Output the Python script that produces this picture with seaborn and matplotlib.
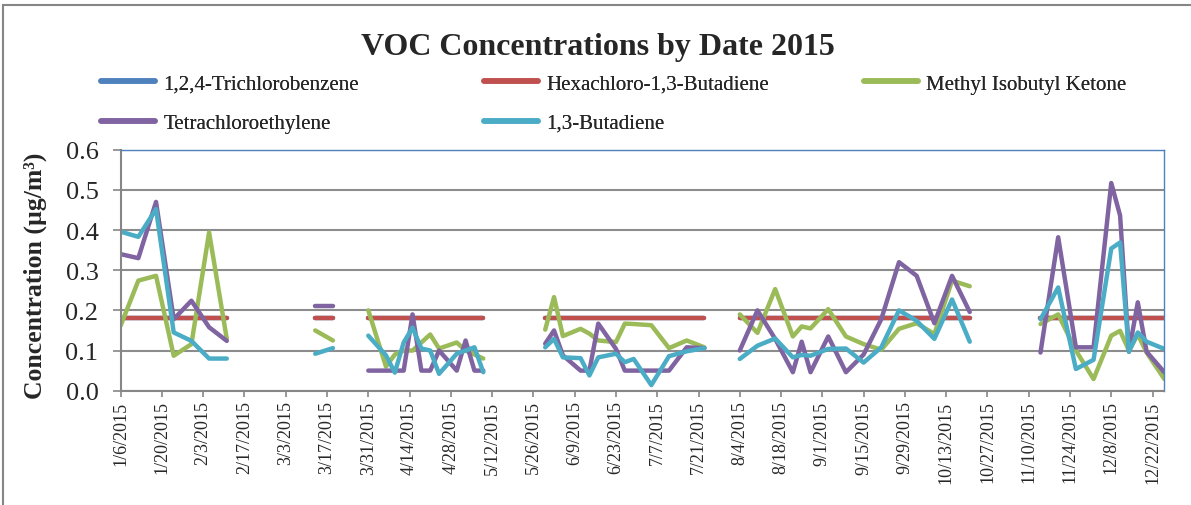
# VOC concentrations by sample date, 2015 (line chart)

import pandas as pd
import matplotlib.pyplot as plt
from matplotlib.patches import Rectangle
import seaborn as sns

# Sample dates; 'segment' splits the record where the monitor had no data
dates = ['1/6/2015', '1/12/2015', '1/18/2015', '1/24/2015', '1/30/2015', '2/5/2015', '2/11/2015',
         '3/13/2015', '3/19/2015',
         '3/31/2015', '4/6/2015', '4/9/2015', '4/12/2015', '4/15/2015', '4/18/2015',
         '4/21/2015', '4/24/2015', '4/30/2015', '5/3/2015', '5/6/2015', '5/9/2015',
         '5/30/2015', '6/2/2015', '6/5/2015', '6/11/2015', '6/14/2015', '6/17/2015', '6/23/2015',
         '6/26/2015', '6/29/2015', '7/5/2015', '7/11/2015', '7/17/2015', '7/23/2015',
         '8/4/2015', '8/10/2015', '8/16/2015', '8/22/2015', '8/25/2015', '8/28/2015', '9/3/2015',
         '9/9/2015', '9/15/2015', '9/21/2015', '9/27/2015', '10/3/2015', '10/9/2015',
         '10/15/2015', '10/21/2015',
         '11/14/2015', '11/20/2015', '11/26/2015', '12/2/2015', '12/8/2015', '12/11/2015',
         '12/14/2015', '12/17/2015', '12/20/2015', '12/26/2015']
segment = [1] * 7 + [2] * 2 + [3] * 12 + [4] * 13 + [5] * 15 + [6] * 10

trichlorobenzene = [0.182] * 59
hexachlorobutadiene = [0.18] * 59
mibk = [0.162, 0.274, 0.286, 0.087, 0.116, 0.394, 0.129,
        0.15, 0.125,
        0.20, 0.06, 0.09, 0.10, 0.10, 0.12, 0.14, 0.105, 0.12, 0.10, 0.09, 0.08,
        0.152, 0.233, 0.136, 0.154, 0.142, 0.125, 0.121, 0.167, 0.166, 0.163, 0.106, 0.125, 0.108,
        0.19, 0.144, 0.253, 0.135, 0.16, 0.155, 0.203, 0.135, 0.116, 0.102, 0.154, 0.168, 0.141,
        0.274, 0.26,
        0.166, 0.19, 0.10, 0.029, 0.137, 0.149, 0.10, 0.14, 0.095, 0.029]
tetrachloroethylene = [0.34, 0.33, 0.47, 0.178, 0.224, 0.158, 0.124,
                       0.21, 0.21,
                       0.05, 0.05, 0.05, 0.05, 0.19, 0.05, 0.05, 0.10, 0.05, 0.125, 0.05, 0.05,
                       0.117, 0.15, 0.088, 0.05, 0.05, 0.167, 0.104, 0.05, 0.05, 0.05, 0.05, 0.108, 0.106,
                       0.10, 0.20, 0.129, 0.046, 0.122, 0.046, 0.135, 0.046, 0.09, 0.178, 0.32, 0.286,
                       0.168, 0.286, 0.196,
                       0.095, 0.382, 0.108, 0.108, 0.517, 0.436, 0.097, 0.22, 0.097, 0.046]
butadiene = [0.396, 0.383, 0.452, 0.145, 0.124, 0.08, 0.08,
             0.092, 0.106,
             0.137, 0.088, 0.045, 0.12, 0.157, 0.105, 0.10, 0.042, 0.092, 0.10, 0.108, 0.046,
             0.108, 0.129, 0.083, 0.081, 0.038, 0.083, 0.092, 0.071, 0.079, 0.014, 0.086, 0.098, 0.106,
             0.079, 0.112, 0.13, 0.083, 0.089, 0.087, 0.104, 0.105, 0.07, 0.108, 0.2, 0.174,
             0.129, 0.227, 0.122,
             0.178, 0.257, 0.054, 0.077, 0.354, 0.369, 0.097, 0.145, 0.122, 0.104]

compounds = ['1,2,4-Trichlorobenzene', 'Hexachloro-1,3-Butadiene', 'Methyl Isobutyl Ketone',
             'Tetrachloroethylene', '1,3-Butadiene']
colors = ['#4F81BD', '#C0504D', '#9BBB59', '#8064A2', '#4BACC6']

df = pd.DataFrame({
    'Date': pd.to_datetime(dates, format='%m/%d/%Y'),
    'Segment': segment,
    compounds[0]: trichlorobenzene,
    compounds[1]: hexachlorobutadiene,
    compounds[2]: mibk,
    compounds[3]: tetrachloroethylene,
    compounds[4]: butadiene,
})
long_df = df.melt(id_vars=['Date', 'Segment'], var_name='Compound', value_name='Concentration')

sns.set_style('white')
plt.rcParams['font.family'] = ['Liberation Serif', 'DejaVu Serif']

fig = plt.figure(figsize=(11.91, 5.06), dpi=100)
ax = fig.add_axes([0.1013, 0.2259, 0.8763, 0.4763])

sns.lineplot(data=long_df, x='Date', y='Concentration', hue='Compound', hue_order=compounds,
             palette=colors, units='Segment', estimator=None, sort=False,
             linewidth=3.2, solid_capstyle='round', solid_joinstyle='round', ax=ax)

# Legend laid out like the original: 3 columns, filled row by row
leg = ax.get_legend()
handles = leg.legend_handles
labels = [t.get_text() for t in leg.get_texts()]
leg.remove()
for h in handles:
    h.set_linewidth(4)
    h.set_solid_capstyle('round')
legend_columns = [[0, 3], [1, 4], [2]]
column_x = [101, 484, 864]
for idx, x in zip(legend_columns, column_x):
    lg = fig.legend([handles[i] for i in idx], [labels[i] for i in idx],
                    loc='upper left', bbox_to_anchor=(x / 1191, 1 - 75 / 506), frameon=False,
                    fontsize=15, handlelength=2.6, handletextpad=0.4,
                    labelspacing=0.95, borderpad=0, borderaxespad=0)
    fig.add_artist(lg)

fig.text(0.502, 1 - 47 / 506, 'VOC Concentrations by Date 2015', ha='center', va='center',
         fontsize=23, fontweight='bold')

# Axes styling
ax.set_xlim(df['Date'].iloc[0], df['Date'].iloc[-1])
ax.set_ylim(0, 0.6)
ax.set_yticks([0.0, 0.1, 0.2, 0.3, 0.4, 0.5, 0.6])
ax.set_yticklabels([f'{v:.1f}' for v in ax.get_yticks()], fontsize=19)
tick_dates = pd.date_range('2015-01-06', '2015-12-22', freq='14D')
ax.set_xticks(tick_dates)
ax.set_xticklabels([f'{d.month}/{d.day}/{d.year}' for d in tick_dates], rotation=90, fontsize=13)
ax.tick_params(axis='y', direction='out', length=6, width=1.2, color='#868686', pad=10, left=True)
ax.tick_params(axis='x', direction='out', length=4, width=1.2, color='#868686', pad=3, bottom=True)

ax.set_xlabel('')
ax.set_ylabel('Concentration (µg/m³)', fontsize=18.5, fontweight='bold')
ax.yaxis.set_label_coords(-0.071, 0.48)

ax.yaxis.grid(True, color='#8C8C8C', linewidth=1.5)
ax.set_axisbelow(True)
for side in ['left', 'bottom']:
    ax.spines[side].set_color('#868686')
    ax.spines[side].set_linewidth(1.5)
for side in ['top', 'right']:
    ax.spines[side].set_color('#4F81BD')
    ax.spines[side].set_linewidth(1.0)

# Chart area border
fig.add_artist(Rectangle((3 / 1191, -0.05), 1.1, 500 / 506 + 0.05, transform=fig.transFigure,
                         fill=False, edgecolor='#868686', linewidth=1.5))

plt.savefig('out.png', dpi=100)
